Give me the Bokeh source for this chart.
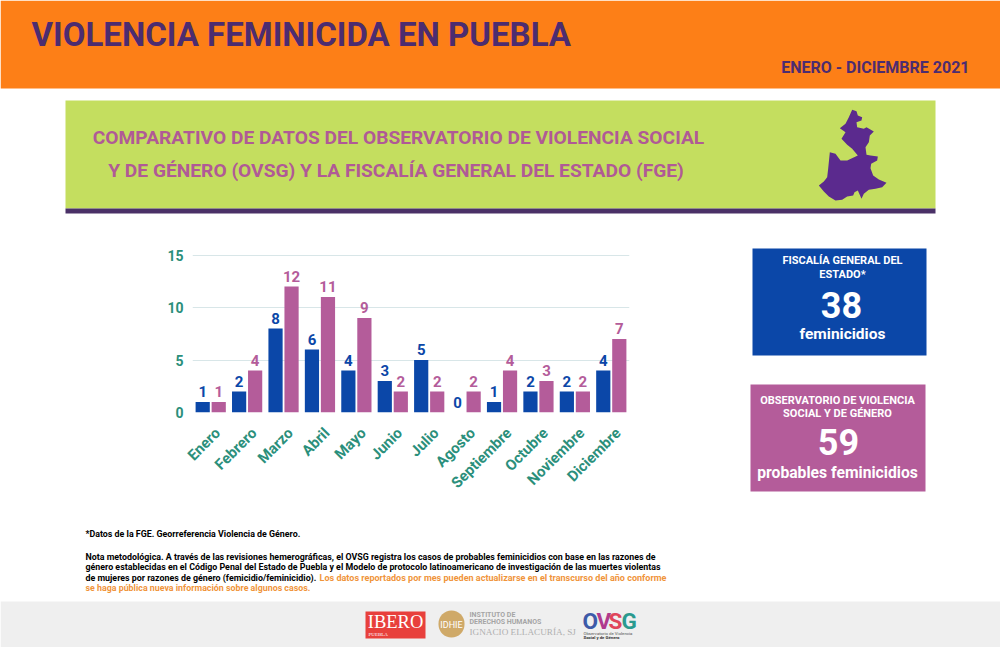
from bokeh.plotting import figure
from bokeh.models import (ColumnDataSource, FactorRange, Range1d, LabelSet, Label,
                          BoxAnnotation, PolyAnnotation, FixedTicker)
from bokeh.core.properties import value
from bokeh.layouts import column
from bokeh.transform import dodge
from bokeh.embed import file_html
from bokeh.resources import INLINE
import math

months = ["Enero", "Febrero", "Marzo", "Abril", "Mayo", "Junio", "Julio", "Agosto",
          "Septiembre", "Octubre", "Noviembre", "Diciembre"]
fge = [1, 2, 8, 6, 4, 3, 5, 0, 1, 2, 2, 4]
ovsg = [1, 4, 12, 11, 9, 2, 2, 2, 4, 3, 2, 7]
y_ticks = [0, 5, 10, 15]

BLUE = "#0b47a8"
PINK = "#b45c9a"
TEAL = "#2b8f7b"
PURPLE = "#4c2c70"
FONT = "Roboto"

W, H = 1000, 647
FL, FT, FW, FH = 192, 254, 437, 158   # chart frame, in window pixels
AXIS_SHIFT = 7                        # the month labels sit a little right of their bars

# Backdrop: a figure whose scales run in window pixels
bg = figure(width=W, height=H, output_backend="svg", toolbar_location=None,
            x_range=Range1d(0, W), y_range=Range1d(H, 0),
            x_axis_location=None, y_axis_location=None, min_border=0, frame_align=False,
            outline_line_color=None, background_fill_color="white", border_fill_color="white")
bg.grid.visible = False


def box(x0, y0, x1, y1, color, **kw):
    bg.add_layout(BoxAnnotation(left=x0, right=x1, top=y0, bottom=y1,
                                fill_color=color, fill_alpha=1, line_color=None, **kw))


def text(x, y, s, size, color, align="left", font=FONT, style="bold"):
    bg.add_layout(Label(x=x, y=y, text=s, text_font=font, text_font_size=f"{size}px",
                        text_font_style=style, text_color=color, text_align=align,
                        text_baseline="middle"))


# Chart
x_range = FactorRange(factors=months, range_padding=0, factor_padding=0)
p = figure(width=W, height=H, output_backend="svg", toolbar_location=None,
           x_range=x_range, x_axis_location=None,
           y_range=Range1d(0, 15.05), frame_align=False,
           min_border_left=FL, min_border_top=FT,
           min_border_right=W - FL - FW, min_border_bottom=H - FT - FH,
           outline_line_color=None, background_fill_color=None, border_fill_color=None,
           margin=(-H, 0, 0, 0))

src = ColumnDataSource(dict(months=months, fge=fge, ovsg=ovsg,
                            fge_t=[str(v) for v in fge], ovsg_t=[str(v) for v in ovsg]))
p.vbar(x=dodge("months", -0.22, range=p.x_range), top="fge", width=0.39, bottom=0,
       source=src, fill_color=BLUE, line_color=None)
p.vbar(x=dodge("months", 0.22, range=p.x_range), top="ovsg", width=0.39, bottom=0,
       source=src, fill_color=PINK, line_color=None)
for col, txt, off, c in (("fge", "fge_t", -8, BLUE), ("ovsg", "ovsg_t", 8, PINK)):
    p.add_layout(LabelSet(x="months", y=col, text=txt, source=src, x_offset=off, y_offset=5,
                          text_align="center", text_baseline="bottom", text_color=c,
                          text_font=value(FONT), text_font_style="bold", text_font_size="15px"))

p.xgrid.grid_line_color = None
p.ygrid.grid_line_color = "#d8e6e8"
p.ygrid.ticker = FixedTicker(ticks=y_ticks)
p.yaxis.ticker = FixedTicker(ticks=y_ticks)
p.yaxis.axis_line_color = None
p.yaxis.major_tick_line_color = None
p.yaxis.minor_tick_line_color = None
p.yaxis.major_label_standoff = 3
p.yaxis.major_label_text_color = TEAL
p.yaxis.major_label_text_font = FONT
p.yaxis.major_label_text_font_style = "bold"
p.yaxis.major_label_text_font_size = "14px"

# Month axis, on a frame of its own so its labels can be placed
ax = figure(width=W, height=H, output_backend="svg", toolbar_location=None,
            x_range=x_range, y_axis_location=None,
            y_range=Range1d(0, 15.05), frame_align=False,
            min_border_left=FL + AXIS_SHIFT, min_border_top=FT,
            min_border_right=W - FL - FW - AXIS_SHIFT, min_border_bottom=H - FT - FH,
            outline_line_color=None, background_fill_color=None, border_fill_color=None,
            margin=(-H, 0, 0, 0))
ax.grid.visible = False
ax.xaxis.axis_line_color = None
ax.xaxis.major_tick_line_color = None
ax.xaxis.minor_tick_line_color = None
ax.xaxis.major_label_orientation = math.pi / 4
ax.xaxis.major_label_standoff = 12
ax.xaxis.major_label_text_color = TEAL
ax.xaxis.major_label_text_font = FONT
ax.xaxis.major_label_text_font_style = "bold"
ax.xaxis.major_label_text_font_size = "15px"

# Header
box(0, 0, 1000, 88, "#fd7f17")
text(31, 34, "VIOLENCIA FEMINICIDA EN PUEBLA", 33, PURPLE)
text(969, 67, "ENERO - DICIEMBRE 2021", 16, PURPLE, align="right")

# Green panel
box(65, 100, 935, 208, "#c4de5f")
box(65, 208, 935, 213, "#4a3067")
text(398, 137, "COMPARATIVO DE DATOS DEL OBSERVATORIO DE VIOLENCIA SOCIAL", 19.2, "#b05a96", align="center")
text(395.5, 170, "Y DE GÉNERO (OVSG) Y LA FISCALÍA GENERAL DEL ESTADO (FGE)", 19.2, "#b05a96", align="center")

map_zoom = [(215, 43), (228, 47), (232, 60), (245, 65), (243, 75), (228, 80), (230, 95), (250, 100),
            (258, 95), (280, 108), (268, 120), (265, 140), (255, 155), (258, 178), (270, 180),
            (292, 183), (290, 195), (272, 205), (270, 218), (278, 240), (295, 252), (318, 262),
            (305, 275), (285, 280), (265, 283), (250, 295), (243, 310), (232, 285), (222, 290),
            (218, 300), (200, 303), (185, 313), (165, 315), (145, 303), (130, 288), (115, 270),
            (130, 258), (140, 245), (143, 220), (148, 170), (165, 175), (180, 195), (200, 195),
            (232, 180), (215, 160), (200, 148), (183, 130), (195, 110), (178, 98), (195, 85), (205, 65)]
bg.add_layout(PolyAnnotation(xs=[780 + a / 3 for a, _ in map_zoom], ys=[95 + b / 3 for _, b in map_zoom],
                             fill_color="#5b2a8e", fill_alpha=1, line_color=None))

# Total boxes
box(752, 248, 926, 355, BLUE)
text(842, 260, "FISCALÍA GENERAL DEL", 11, "white", align="center")
text(842, 274, "ESTADO*", 11, "white", align="center")
text(841, 304.5, str(sum(fge)), 36, "white", align="center")
text(842, 333.5, "feminicidios", 15.5, "white", align="center")

box(750, 384, 925, 491, PINK)
text(837, 400, "OBSERVATORIO DE VIOLENCIA", 11, "white", align="center")
text(837, 413, "SOCIAL Y DE GÉNERO", 11, "white", align="center")
text(838, 441.5, str(sum(ovsg)), 36, "white", align="center")
text(837, 471.5, "probables feminicidios", 15.7, "white", align="center")

# Notes
NOTE = 8.85
text(85, 533.5, "*Datos de la FGE. Georreferencia Violencia de Género.", NOTE, "black")
text(85, 556.5, "Nota metodológica. A través de las revisiones hemerográficas, el OVSG registra los casos de probables feminicidios con base en las razones de", NOTE, "black")
text(85, 566.5, "género establecidas en el Código Penal del Estado de Puebla y el Modelo de protocolo latinoamericano de investigación de las muertes violentas", NOTE, "black")
text(85, 577, "de mujeres por razones de género (femicidio/feminicidio).", NOTE, "black")
text(319, 577, "Los datos reportados por mes pueden actualizarse en el transcurso del año conforme", 9.05, "#f0943a")
text(85, 587, "se haga pública nueva información sobre algunos casos.", NOTE, "#f0943a")

# Footer
box(0, 601, 1000, 647, "#efefef")
box(365, 611, 425, 638, "#e8403c")
text(395, 621, "IBERO", 18.5, "white", align="center", font="Liberation Serif", style="normal")
text(368, 634, "PUEBLA", 5, "white", font="Liberation Serif", style="normal")
box(438, 610, 464, 637, "#cfa968", border_radius=13)
text(451, 624, "IDHIE", 9, "white", align="center", style="normal")
text(469, 614, "INSTITUTO DE", 7, "#a5a5a5")
text(469, 621, "DERECHOS HUMANOS", 7, "#a5a5a5")
text(469, 631, "IGNACIO ELLACURÍA, SJ", 9.2, "#b0b0b0", font="Liberation Serif", style="normal")
for x, ch, col in ((582, "O", "#3d5aa8"), (596, "V", "#b03a8e"), (608, "S", "#e0455a"), (621, "G", "#2a9a8f")):
    text(x, 620, ch, 22.5, col)
text(583, 633, "Observatorio de Violencia", 4.3, "#555555", style="normal")
text(583, 637, "Social y de Género", 4.3, "#333333")

open("out.html", "w").write(file_html(column(bg, p, ax), INLINE))
